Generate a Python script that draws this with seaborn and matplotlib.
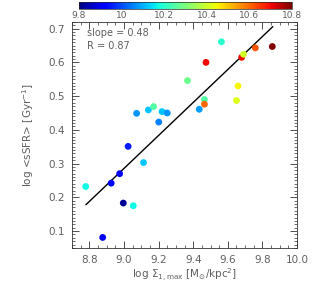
import numpy as np
import pandas as pd
import matplotlib
matplotlib.use('Agg')
import matplotlib.pyplot as plt
import seaborn as sns
from matplotlib.ticker import MultipleLocator

# ---------- DATA ----------
log_sigma1 = [8.779, 8.877, 8.926, 8.975, 8.996, 9.024, 9.054, 9.113, 9.073, 9.141,
              9.171, 9.201, 9.220, 9.250, 9.367, 9.435, 9.465, 9.465, 9.474, 9.563,
              9.650, 9.659, 9.680, 9.691, 9.759, 9.857]
log_ssfr = [0.232, 0.081, 0.242, 0.270, 0.183, 0.351, 0.175, 0.303, 0.449, 0.459,
            0.469, 0.423, 0.454, 0.450, 0.546, 0.461, 0.490, 0.476, 0.600, 0.661,
            0.487, 0.530, 0.615, 0.624, 0.643, 0.647]
log_mstar = [10.17, 9.90, 9.92, 9.93, 9.82, 9.95, 10.17, 10.12, 10.07, 10.12,
             10.25, 10.05, 10.12, 10.07, 10.28, 10.08, 10.25, 10.60, 10.70, 10.20,
             10.42, 10.45, 10.70, 10.40, 10.62, 10.80]
fit_x = [8.78, 9.86]
fit_y = [0.178, 0.706]
slope_txt = 'slope = 0.48'
r_txt = 'R = 0.87'
cbar_ticks = [9.8, 10.0, 10.2, 10.4, 10.6, 10.8]
cbar_ticklabels = ['9.8', '10', '10.2', '10.4', '10.6', '10.8']

df = pd.DataFrame({'x': log_sigma1, 'y': log_ssfr, 'm': log_mstar})

# ---------- STYLE ----------
sns.set_style('ticks')
plt.rcParams['font.family'] = ['DejaVu Sans']
grey = '#5f5f5f'
fs = 7.5
jet = plt.get_cmap('jet')

fig = plt.figure(figsize=(3.16, 2.92), dpi=100)
ax = fig.add_axes([0.228, 0.151, 0.712, 0.774])

norm = plt.Normalize(9.8, 10.8)
sns.scatterplot(data=df, x='x', y='y', hue='m', palette=jet, hue_norm=norm,
                s=24, linewidth=0, legend=False, ax=ax, zorder=3)
sns.lineplot(x=fit_x, y=fit_y, color='black', linewidth=1.0, ax=ax, zorder=2)

ax.set_xlim(8.7, 10.0)
ax.set_ylim(0.05, 0.72)
ax.xaxis.set_major_locator(MultipleLocator(0.2))
ax.xaxis.set_minor_locator(MultipleLocator(0.05))
ax.yaxis.set_major_locator(MultipleLocator(0.1))
ax.yaxis.set_minor_locator(MultipleLocator(0.01))
ax.tick_params(which='both', direction='in', top=True, right=True, color='#333333')
ax.tick_params(which='major', length=5, width=0.6, labelsize=fs, labelcolor=grey, pad=5)
ax.tick_params(which='minor', length=2.5, width=0.5)
ax.xaxis.set_major_formatter(plt.FuncFormatter(lambda v, p: f'{v:.1f}'))
for sp in ax.spines.values():
    sp.set_linewidth(0.6)
    sp.set_color('#333333')

ax.set_xlabel(r'log $\Sigma_{1,\mathrm{max}}$ [M$_{\odot}$/kpc$^{2}$]', fontsize=fs, color=grey, labelpad=1)
ax.set_ylabel(r'log <sSFR> [Gyr$^{-1}$]', fontsize=fs, color=grey, labelpad=9)

ax.text(0.067, 0.95, slope_txt, transform=ax.transAxes, fontsize=fs - 0.5, color=grey, va='center')
ax.text(0.067, 0.893, r_txt, transform=ax.transAxes, fontsize=fs - 0.5, color=grey, va='center')

# ---------- COLORBAR ----------
cax = fig.add_axes([0.25, 0.968, 0.674, 0.024])
sm = plt.cm.ScalarMappable(norm=norm, cmap=jet)
cb = fig.colorbar(sm, cax=cax, orientation='horizontal')
cb.set_ticks(cbar_ticks)
cb.set_ticklabels(cbar_ticklabels)
cb.outline.set_linewidth(0.5)
cax.tick_params(length=0, labelsize=fs - 1, labelcolor=grey, pad=1.5)

fig.savefig('out.png', dpi=100)
